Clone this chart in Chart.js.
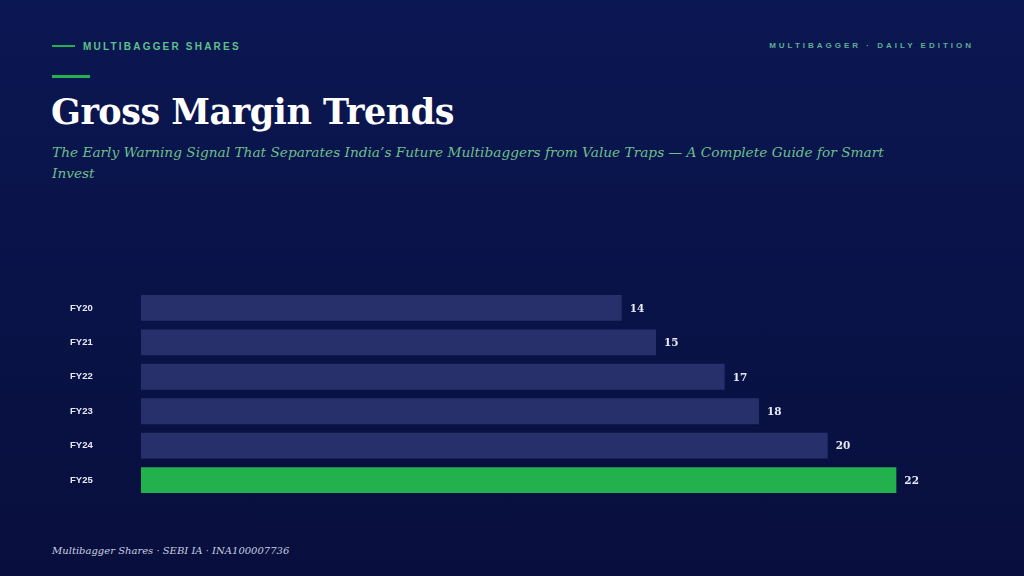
<!DOCTYPE html>
<html>
<head>
<meta charset="utf-8">
<script src="https://cdn.jsdelivr.net/npm/chart.js@4"></script>
<style>
  html, body { margin: 0; padding: 0; }
  body {
    width: 1024px; height: 576px; overflow: hidden; position: relative;
    background: linear-gradient(180deg, #0b1752 0%, #0a1348 50%, #080f3d 100%);
    font-family: "DejaVu Serif", serif;
  }
  .kicker {
    position: absolute; left: 52px; top: 41px;
    font: bold 10px "Liberation Sans", Arial, sans-serif; letter-spacing: 2.2px;
    color: #5fc08a;
  }
  .kicker:before {
    content: ""; display: inline-block; width: 23px; height: 2px; background: #22b14c;
    vertical-align: middle; margin-right: 8px; position: relative; top: -1px;
  }
  .edition {
    position: absolute; right: 50px; top: 41px;
    font: bold 8px "Liberation Sans", Arial, sans-serif; letter-spacing: 3px;
    color: #5fae96;
  }
  .rule { position: absolute; left: 52px; top: 75px; width: 38px; height: 3px; background: #22b14c; }
  h1 {
    position: absolute; left: 51px; top: 91px; margin: 0;
    font: bold 35px "DejaVu Serif", Georgia, serif; color: #ffffff; letter-spacing: -0.5px;
  }
  .sub {
    position: absolute; left: 52px; top: 142px; width: 840px; margin: 0;
    font: italic 13.7px/21px "DejaVu Serif", Georgia, serif; color: #6dbf8c;
  }
  .foot {
    position: absolute; left: 52px; top: 545px;
    font: italic 10px "DejaVu Serif", Georgia, serif; color: #c9cde0;
  }
  #wrap { position: absolute; left: 70px; top: 285px; width: 895px; height: 218px; }
</style>
</head>
<body>
<div class="kicker">MULTIBAGGER SHARES</div>
<div class="edition">MULTIBAGGER · DAILY EDITION</div>
<div class="rule"></div>
<h1>Gross Margin Trends</h1>
<p class="sub">The Early Warning Signal That Separates India’s Future Multibaggers from Value Traps — A Complete Guide for Smart Invest</p>
<div id="wrap"><canvas id="chartMargin"></canvas></div>
<div class="foot">Multibagger Shares · SEBI IA · INA100007736</div>

<script>
// Data
const tahun = ["FY20", "FY21", "FY22", "FY23", "FY24", "FY25"];
const grossMargin = [14, 15, 17, 18, 20, 22];
const warnaBar = ["#27306b", "#27306b", "#27306b", "#27306b", "#27306b", "#22b14c"];

// Plugin: label nilai di ujung bar
const labelNilai = {
  id: "labelNilai",
  afterDatasetsDraw(chart) {
    const ctx = chart.ctx;
    const meta = chart.getDatasetMeta(0);
    ctx.save();
    ctx.font = "bold 10.5px 'DejaVu Serif', Georgia, serif";
    ctx.fillStyle = "#e6e8f2";
    ctx.textBaseline = "middle";
    meta.data.forEach((bar, i) => {
      ctx.fillText(grossMargin[i], bar.x + 8, bar.y + 1);
    });
    ctx.restore();
  }
};

new Chart(document.getElementById("chartMargin"), {
  type: "bar",
  data: {
    labels: tahun,
    datasets: [{
      data: grossMargin,
      backgroundColor: warnaBar,
      borderWidth: 0,
      categoryPercentage: 0.75,
      barPercentage: 1
    }]
  },
  options: {
    indexAxis: "y",
    responsive: true,
    maintainAspectRatio: false,
    animation: false,
    layout: { padding: 0 },
    plugins: { legend: { display: false }, tooltip: { enabled: false } },
    scales: {
      x: { min: 0, max: 24, display: false },
      y: {
        grid: { display: false },
        border: { display: false },
        ticks: {
          color: "#e8eaf3",
          font: { family: "'Liberation Sans', Arial, sans-serif", size: 9.5, weight: "bold" },
          crossAlign: "far",
          padding: 0
        },
        afterFit(scale) { scale.width = 71; }
      }
    }
  },
  plugins: [labelNilai]
});
</script>
</body>
</html>
